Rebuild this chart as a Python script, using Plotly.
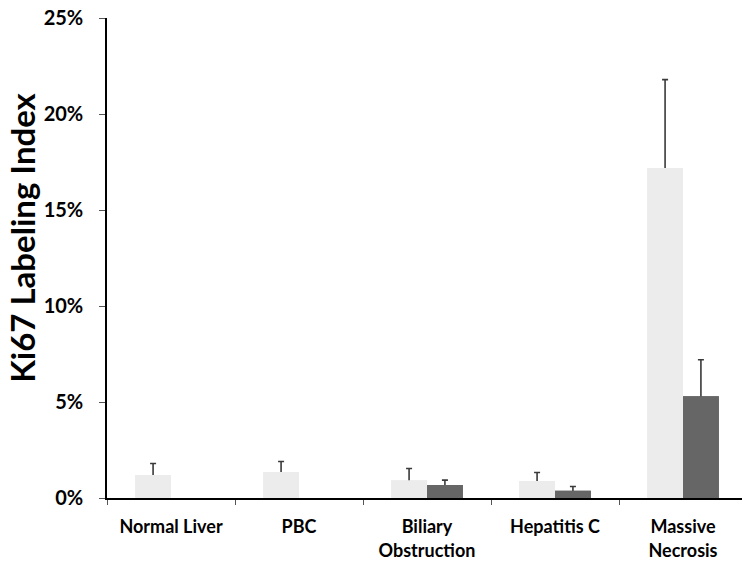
import plotly.graph_objects as go

# Ki67 labeling index by liver condition (two stains / groups)
categories = ["Normal Liver", "PBC", "Biliary<br>Obstruction", "Hepatitis C", "Massive<br>Necrosis"]
light_vals = [0.012, 0.0135, 0.0092, 0.0088, 0.172]
light_err = [0.006, 0.0055, 0.0062, 0.0045, 0.046]
dark_cats = ["Biliary<br>Obstruction", "Hepatitis C", "Massive<br>Necrosis"]
dark_vals = [0.0068, 0.0038, 0.053]
dark_err = [0.0025, 0.0022, 0.019]
y_ticks = [0, 0.05, 0.10, 0.15, 0.20, 0.25]

# pad the dark series so both series share the same category slots
dark_full = [dark_vals[dark_cats.index(c)] if c in dark_cats else None for c in categories]
dark_err_full = [dark_err[dark_cats.index(c)] if c in dark_cats else 0 for c in categories]

err_style = dict(type="data", symmetric=False, color="#3a3a3a", thickness=1.6, width=3)
LIGHT, DARK = "#ececec", "#666666"

fig = go.Figure()
# bars carrying the error bars (drawn full length down to zero) ...
fig.add_trace(go.Bar(
    x=categories, y=light_vals, offsetgroup="a", marker=dict(color=LIGHT, line=dict(width=0)),
    error_y=dict(array=light_err, arrayminus=light_vals, **err_style),
    showlegend=False,
))
fig.add_trace(go.Bar(
    x=categories, y=dark_full, offsetgroup="b", marker=dict(color=DARK, line=dict(width=0)),
    error_y=dict(array=dark_err_full, arrayminus=[v or 0 for v in dark_full], **err_style),
    showlegend=False,
))
# ... then the same bars again on top so only the upper half of each whisker shows
fig.add_trace(go.Bar(x=categories, y=light_vals, offsetgroup="a",
                     marker=dict(color=LIGHT, line=dict(width=0)), showlegend=False))
fig.add_trace(go.Bar(x=categories, y=dark_full, offsetgroup="b",
                     marker=dict(color=DARK, line=dict(width=0)), showlegend=False))

font_family = "Lato, 'Open Sans', sans-serif"

# the page body adds an 8px offset, so margins are shifted to compensate
fig.update_layout(
    width=750, height=561,
    margin=dict(l=99, r=11, t=10, b=71),
    plot_bgcolor="white", paper_bgcolor="white",
    barmode="group", bargap=0.44, bargroupgap=0,
    font=dict(family=font_family, color="black"),
    xaxis=dict(
        type="category", range=[-0.5, 4.5], automargin=False,
        showline=True, linecolor="black", linewidth=1.5,
        ticks="outside", tickson="boundaries", ticklen=5, tickcolor="#555",
        tickfont=dict(size=18, family=font_family, weight="bold"),
        ticklabelstandoff=12, ticklabeloverflow="allow", showgrid=False,
    ),
    yaxis=dict(
        range=[0, 0.2501], tickvals=y_ticks, tickformat=".0%", automargin=False,
        showline=True, linecolor="black", linewidth=1.5,
        ticks="outside", ticklen=6, tickcolor="#555",
        tickfont=dict(size=20, family=font_family, weight="bold"),
        ticklabelstandoff=12, ticklabeloverflow="allow",
        showgrid=False, zeroline=False,
    ),
    annotations=[dict(
        text="Ki67 Labeling Index", textangle=-90,
        xref="paper", yref="paper", x=-0.132, y=0.541,
        xanchor="center", yanchor="middle", showarrow=False,
        font=dict(size=33, family=font_family, weight="bold"),
    )],
)

fig.write_html("out.html")
